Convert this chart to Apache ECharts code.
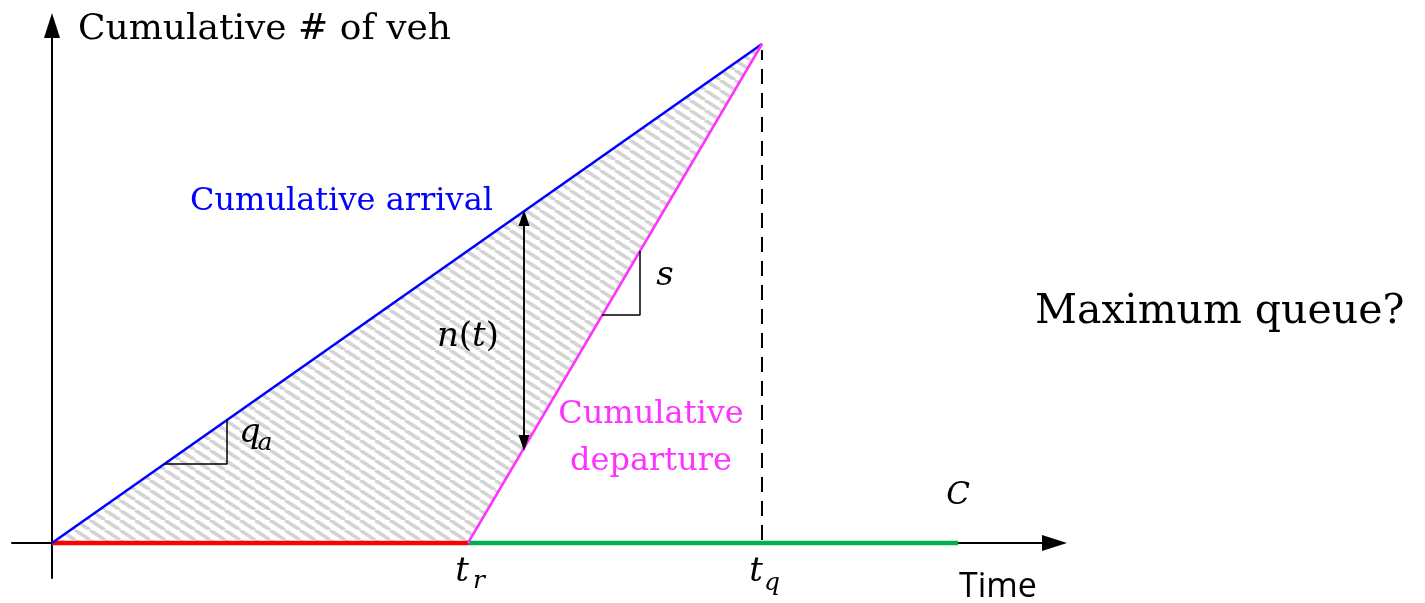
<!DOCTYPE html>
<html>
<head>
<meta charset="utf-8">
<script src="https://cdn.jsdelivr.net/npm/echarts@6/dist/echarts.min.js"></script>
<style>
  html, body { margin: 0; padding: 0; background: #fff; }
  #chart { width: 1425px; height: 603px; }
</style>
</head>
<body>
<div id="chart"></div>
<script>
// key times on the time axis
const tr = 4.16;
const tq = 7.10;
const cycleEnd = 9.06;
const maxCum = 4.99;

// cumulative curves (time, vehicles)
const arrivalX = [0, tq];
const arrivalY = [0, maxCum];
const departureX = [tr, tq];
const departureY = [0, maxCum];

// signal phases on the time axis
const redPhase = [0, tr];
const greenPhase = [tr, cycleEnd];

// slope marks and n(t) arrow
const qaMark = [[1.12, 0.79], [1.75, 0.79], [1.75, 1.23]];
const sMark = [[5.50, 2.28], [5.88, 2.28], [5.88, 2.92]];
const ntX = 4.72;
const ntRange = [1.0, 3.25];

const SERIF = '"DejaVu Serif", "Liberation Serif", serif';
const MATH = '"DejaVu Serif", "Liberation Serif", serif';
const SANS = '"Open Sans", "Noto Sans", sans-serif';

const chart = echarts.init(document.getElementById('chart'));

// diagonal hatch pattern
function hatch() {
  const w = 15, h = 10;
  const c = document.createElement('canvas');
  c.width = w; c.height = h;
  const g = c.getContext('2d');
  g.strokeStyle = '#d4d4d4';
  g.lineWidth = 3.6;
  [-w, 0, w].forEach(o => {
    g.beginPath();
    g.moveTo(o, 0);
    g.lineTo(o + w, h);
    g.stroke();
  });
  return c;
}
const hatchImg = hatch();

const pairs = (xs, ys) => xs.map((x, i) => [x, ys[i]]);

// text annotations
const labels = [
  { value: [0.26, 5.13], text: 'Cumulative # of veh', align: 'left', font: SERIF, size: 36, color: '#000' },
  { value: [1.38, 3.41], text: 'Cumulative arrival', align: 'left', font: SERIF, size: 32, color: '#0000ff' },
  { value: [5.99, 1.045], text: 'Cumulative\ndeparture', align: 'center', font: SERIF, size: 32, color: '#ff33ff', lh: 47 },
  { value: [9.83, 2.31], text: 'Maximum queue?', align: 'left', font: SERIF, size: 41, color: '#000' },
  { value: [1.98, 1.10], text: 'q', align: 'center', font: MATH, size: 34, color: '#000', italic: true },
  { value: [2.13, 1.00], text: 'a', align: 'center', font: MATH, size: 25, color: '#000', italic: true },
  { value: [6.13, 2.67], text: 's', align: 'center', font: MATH, size: 34, color: '#000', italic: true },
  { value: [4.16, 2.06], text: '{i|n}{u|(}{i|t}{u|)}', align: 'center', font: MATH, size: 34, color: '#000' },
  { value: [4.10, -0.29], text: 't', align: 'center', font: MATH, size: 34, color: '#000', italic: true },
  { value: [4.27, -0.38], text: 'r', align: 'center', font: MATH, size: 25, color: '#000', italic: true },
  { value: [7.04, -0.29], text: 't', align: 'center', font: MATH, size: 34, color: '#000', italic: true },
  { value: [7.20, -0.40], text: 'q', align: 'center', font: MATH, size: 25, color: '#000', italic: true },
  { value: [9.06, 0.47], text: 'C', align: 'center', font: MATH, size: 31, color: '#000', italic: true },
  { value: [9.46, -0.44], text: 'Time', align: 'center', font: SANS, size: 34, color: '#000' }
];

const axisCommon = {
  type: 'value',
  axisLine: { show: true, onZero: true, symbol: ['none', 'triangle'], symbolSize: [16, 25], lineStyle: { color: '#000', width: 2 } },
  axisTick: { show: false }, axisLabel: { show: false }, splitLine: { show: false }
};

const option = {
  animation: false,
  backgroundColor: '#fff',
  grid: { left: 12, right: 370.5, top: 25.5, bottom: 25, containLabel: false },
  xAxis: Object.assign({ min: -0.4, max: 10.025 }, axisCommon),
  yAxis: Object.assign({ min: -0.35, max: 5.175 }, axisCommon),
  series: [
    {
      name: 'queue',
      type: 'custom',
      z: 1,
      data: [0],
      renderItem: (params, api) => {
        const pts = [[arrivalX[0], arrivalY[0]], [tq, maxCum], [departureX[0], departureY[0]]].map(p => api.coord(p));
        return { type: 'polygon', shape: { points: pts }, style: { fill: { image: hatchImg, repeat: 'repeat' }, stroke: null } };
      }
    },
    {
      name: 'red', type: 'line', symbol: 'none', z: 3, clip: false,
      lineStyle: { color: '#ff0000', width: 4.5 },
      data: redPhase.map(x => [x, 0])
    },
    {
      name: 'green', type: 'line', symbol: 'none', z: 3, clip: false,
      lineStyle: { color: '#00b050', width: 4.5 },
      data: greenPhase.map(x => [x, 0])
    },
    {
      name: 'arrival', type: 'line', symbol: 'none', z: 4,
      lineStyle: { color: '#0000ff', width: 2.5 },
      data: pairs(arrivalX, arrivalY)
    },
    {
      name: 'departure', type: 'line', symbol: 'none', z: 4,
      lineStyle: { color: '#ff33ff', width: 2.5 },
      data: pairs(departureX, departureY)
    },
    {
      name: 'tq', type: 'line', symbol: 'none', z: 2,
      lineStyle: { color: '#000', width: 2, type: [15, 9] },
      data: [[tq, 0.03], [tq, 4.93]]
    },
    {
      name: 'qa', type: 'line', symbol: 'none', z: 4,
      lineStyle: { color: '#000', width: 1.5 },
      data: qaMark
    },
    {
      name: 's', type: 'line', symbol: 'none', z: 4,
      lineStyle: { color: '#000', width: 1.5 },
      data: sMark
    },
    {
      name: 'nt', type: 'line', z: 4, symbol: 'none',
      lineStyle: { color: '#000', width: 1.5 },
      data: [[ntX, ntRange[0]], [ntX, ntRange[1]]],
      markLine: {
        silent: true, symbol: ['triangle', 'triangle'], symbolSize: [11, 16],
        lineStyle: { color: '#000', width: 1.5, type: 'solid' },
        label: { show: false },
        data: [[{ coord: [ntX, ntRange[0]] }, { coord: [ntX, ntRange[1]] }]]
      }
    },
    {
      name: 'labels', type: 'scatter', symbolSize: 0, clip: false, z: 6,
      itemStyle: { opacity: 1 },
      data: labels.map(l => ({
        value: l.value,
        label: {
          show: true, position: [0, 0], formatter: l.text,
          align: l.align, verticalAlign: 'middle',
          fontFamily: l.font, fontSize: l.size, color: l.color,
          fontStyle: l.italic ? 'italic' : 'normal',
          lineHeight: l.lh || Math.round(l.size * 1.2),
          rich: {
            i: { fontFamily: l.font, fontSize: l.size, fontStyle: 'italic', color: l.color },
            u: { fontFamily: l.font, fontSize: l.size, color: l.color }
          }
        }
      }))
    }
  ]
};

chart.setOption(option);
</script>
</body>
</html>
